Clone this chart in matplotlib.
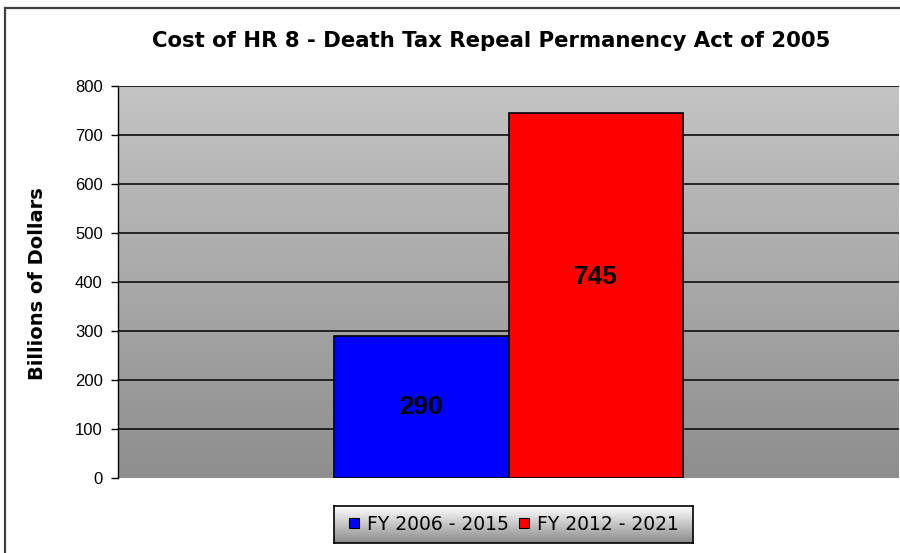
import numpy as np
import matplotlib
matplotlib.use("Agg")
import matplotlib.pyplot as plt
from matplotlib.patches import Rectangle
from matplotlib.lines import Line2D
from matplotlib.colors import LinearSegmentedColormap

plt.rcParams['font.family'] = ['Liberation Sans', 'DejaVu Sans']

title = "Cost of HR 8 - Death Tax Repeal Permanency Act of 2005"
series = ["FY 2006 - 2015", "FY 2012 - 2021"]
values = [290, 745]
colors = ["#0000ff", "#ff0000"]
yticks = [0, 100, 200, 300, 400, 500, 600, 700, 800]
ylabel = "Billions of Dollars"

fig = plt.figure(figsize=(9, 5.53), dpi=100)
W, H = 900, 553

# outer chart border
fig.patches.append(Rectangle((5 / W, -0.1), 1.2, (1 - 8 / H) + 0.1, transform=fig.transFigure,
                             fill=False, edgecolor="#404040", linewidth=1.6, zorder=0))

ax = fig.add_axes([118 / W, 1 - 478 / H, 781 / W, 392 / H])
ax.set_xlim(-2.234, 2.234)
ax.set_ylim(0, 800)

# gradient background
grad = np.linspace(0, 1, 256).reshape(-1, 1)
cmap = LinearSegmentedColormap.from_list("g", ["#8e8e8e", "#c4c4c4"])
ax.imshow(grad, aspect="auto", cmap=cmap, extent=(-2.234, 2.234, 0, 800), origin="lower", zorder=0)

for t in yticks[1:]:
    ax.axhline(t, color="#1a1a1a", linewidth=1.3, zorder=1)

xs = [-0.5, 0.5]
ax.bar(xs, values, width=1.0, color=colors, edgecolor="black", linewidth=1.2, zorder=2)
label_frac = [0.5, 0.55]
for x, v, f in zip(xs, values, label_frac):
    ax.text(x, v * f, str(v), ha="center", va="center", fontsize=19, fontweight="bold",
            family=['Liberation Sans', 'DejaVu Sans'], zorder=3)

ax.set_yticks(yticks)
ax.set_yticklabels([str(t) for t in yticks], fontsize=12, family=['Liberation Sans', 'DejaVu Sans'])
ax.tick_params(axis="y", direction="out", length=5, width=1, color="black", pad=6)
ax.set_xticks([])
for s in ["top", "right", "bottom"]:
    ax.spines[s].set_visible(False)
ax.spines["left"].set_color("black")
ax.spines["left"].set_linewidth(1)

fig.text(38 / W, 1 - 284 / H, ylabel, rotation=90, ha="center", va="center",
         fontsize=14, fontweight="bold", family=['DejaVu Sans'])
fig.text(491 / W, 1 - 41 / H, title, ha="center", va="center", fontsize=15.3, fontweight="bold",
         family=['DejaVu Sans'])

# legend box with gradient
lx0, lx1, ly0, ly1 = 334, 693, 506, 543
lax = fig.add_axes([lx0 / W, 1 - ly1 / H, (lx1 - lx0) / W, (ly1 - ly0) / H])
lax.imshow(np.linspace(0, 1, 256).reshape(-1, 1), aspect="auto",
           cmap=LinearSegmentedColormap.from_list("l", ["#8a8a8a", "#ffffff"]),
           extent=(0, 1, 0, 1), origin="lower")
lax.set_xlim(0, 1); lax.set_ylim(0, 1)
lax.set_xticks([]); lax.set_yticks([])
for s in lax.spines.values():
    s.set_color("black"); s.set_linewidth(1.2)
handles = [Line2D([], [], marker="s", linestyle="none", markersize=7, markerfacecolor=c,
                  markeredgecolor="black", markeredgewidth=0.8) for c in colors]
lax.legend(handles, series, loc="center", ncol=2, frameon=False,
           handlelength=0.6, handletextpad=0.4, columnspacing=0.5,
           prop={'family': ['DejaVu Sans'], 'size': 13.5})

fig.savefig("out.png", dpi=100, facecolor="white")
